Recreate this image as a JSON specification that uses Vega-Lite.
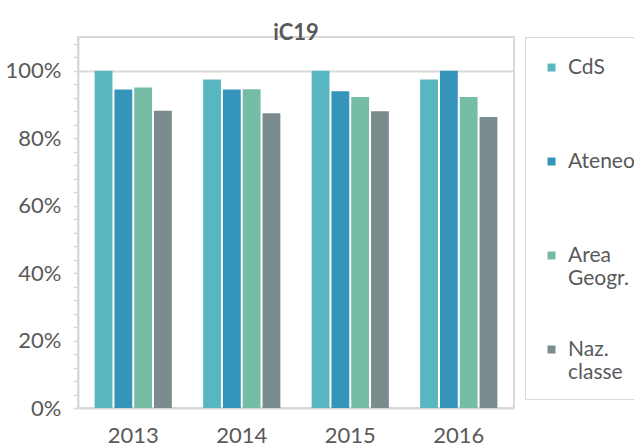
{
  "$schema": "https://vega.github.io/schema/vega-lite/v6.json",
  "width": 436,
  "height": 371,
  "autosize": "none",
  "padding": {"left": 78, "top": 37, "right": 120, "bottom": 38},
  "background": "white",
  "config": {
    "font": "Lato",
    "view": {"stroke": "#d9d9d9", "strokeWidth": 2}
  },
  "title": {
    "text": "iC19",
    "fontSize": 22,
    "fontWeight": "bold",
    "color": "#595959",
    "anchor": "middle",
    "frame": "group",
    "baseline": "alphabetic",
    "offset": 1,
    "dy": 30
  },
  "data": {
    "values": [
      {"year": "2013", "series": "CdS", "value": 1.0},
      {"year": "2013", "series": "Ateneo", "value": 0.944},
      {"year": "2013", "series": "Area Geogr.", "value": 0.95},
      {"year": "2013", "series": "Naz. classe", "value": 0.881},
      {"year": "2014", "series": "CdS", "value": 0.974},
      {"year": "2014", "series": "Ateneo", "value": 0.944},
      {"year": "2014", "series": "Area Geogr.", "value": 0.945},
      {"year": "2014", "series": "Naz. classe", "value": 0.874},
      {"year": "2015", "series": "CdS", "value": 1.0},
      {"year": "2015", "series": "Ateneo", "value": 0.939},
      {"year": "2015", "series": "Area Geogr.", "value": 0.922},
      {"year": "2015", "series": "Naz. classe", "value": 0.88},
      {"year": "2016", "series": "CdS", "value": 0.974},
      {"year": "2016", "series": "Ateneo", "value": 1.0},
      {"year": "2016", "series": "Area Geogr.", "value": 0.922},
      {"year": "2016", "series": "Naz. classe", "value": 0.863}
    ]
  },
  "mark": {"type": "bar"},
  "encoding": {
    "x": {
      "field": "year",
      "type": "nominal",
      "scale": {"paddingInner": 0.27, "paddingOuter": 0.144},
      "axis": {
        "title": null,
        "labelAngle": 0,
        "ticks": false,
        "labelPadding": 17,
        "labelFontSize": 22,
        "labelColor": "#595959",
        "domainColor": "#d9d9d9",
        "domainWidth": 2
      }
    },
    "xOffset": {
      "field": "series",
      "type": "nominal",
      "sort": ["CdS", "Ateneo", "Area Geogr.", "Naz. classe"],
      "scale": {"paddingInner": 0.1, "paddingOuter": 0.05}
    },
    "y": {
      "field": "value",
      "type": "quantitative",
      "scale": {"domain": [0, 1.1], "nice": false},
      "axis": {
        "title": null,
        "values": [0, 0.04, 0.08, 0.12, 0.16, 0.2, 0.24, 0.28, 0.32, 0.36, 0.4, 0.44, 0.48, 0.52, 0.56, 0.6, 0.64, 0.68, 0.72, 0.76, 0.8, 0.84, 0.88, 0.92, 0.96, 1, 1.04, 1.08],
        "format": ".0%",
        "labelExpr": "abs(datum.value*5 - round(datum.value*5)) < 0.001 ? datum.label : ''",
        "labelOverlap": false,
        "labelBound": false,
        "labelFontSize": 22,
        "labelColor": "#595959",
        "labelPadding": 12,
        "tickSize": 5,
        "tickColor": "#d9d9d9",
        "tickWidth": 1.5,
        "domainColor": "#d9d9d9",
        "domainWidth": 2,
        "grid": true,
        "gridColor": "#d9d9d9",
        "gridWidth": 2,
        "gridOpacity": {"condition": {"test": "abs(datum.value - 1) < 0.001", "value": 1}, "value": 0}
      }
    },
    "color": {
      "field": "series",
      "type": "nominal",
      "scale": {
        "domain": ["CdS", "Ateneo", "Area Geogr.", "Naz. classe"],
        "range": ["#58b6c0", "#3494ba", "#75bda7", "#7a8c8e"]
      },
      "legend": {
        "title": " ",
        "titleFontSize": 4,
        "titlePadding": 0,
        "orient": "right",
        "offset": 11,
        "padding": 16,
        "strokeColor": "#d9d9d9",
        "symbolType": "square",
        "symbolSize": 64,
        "symbolStrokeWidth": 0,
        "labelFontSize": 21,
        "labelColor": "#595959",
        "labelOffset": 6,
        "labelLimit": 200,
        "labelExpr": "length(split(datum.label, ' ')) > 1 ? split(datum.label, ' ') : [datum.label, ' ']",
        "rowPadding": 49
      }
    }
  }
}
